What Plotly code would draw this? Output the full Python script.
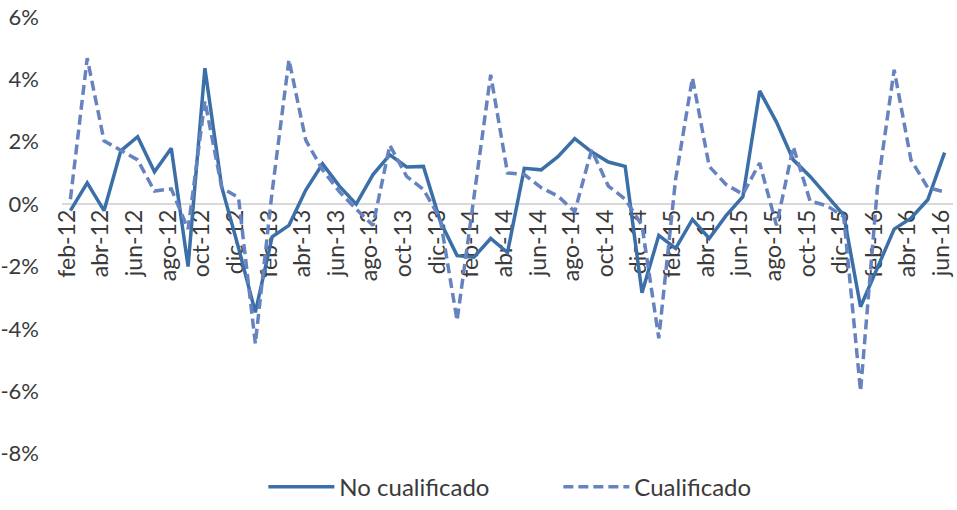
import plotly.graph_objects as go

months = ["ene", "feb", "mar", "abr", "may", "jun", "jul", "ago", "sep", "oct", "nov", "dic"]
categories = [f"{m}-{y}" for y in range(12, 17) for m in months][1:54]

no_cualificado = [
    -0.21, 0.68, -0.21, 1.71, 2.16, 1.04, 1.79, -2.00, 4.36, 0.55, -1.40,
    -3.47, -1.05, -0.68, 0.45, 1.29, 0.58, 0.00, 0.95, 1.58, 1.19, 1.21, -0.55,
    -1.65, -1.70, -1.10, -1.55, 1.15, 1.10, 1.52, 2.10, 1.68, 1.35, 1.21, -2.84,
    -1.00, -1.42, -0.49, -1.10, -0.37, 0.24, 3.63, 2.63, 1.42, 0.89, 0.26, -0.35,
    -3.29, -2.05, -0.80, -0.45, 0.14, 1.65,
]
cualificado = [
    0.16, 4.68, 2.03, 1.74, 1.42, 0.42, 0.49, -0.80, 3.31, 0.53, 0.21,
    -4.47, 0.40, 4.63, 2.05, 1.10, 0.40, -0.16, -0.68, 1.89, 0.89, 0.47, -0.47,
    -3.73, 0.30, 4.15, 1.00, 0.95, 0.53, 0.26, -0.24, 1.74, 0.58, 0.16, -0.68,
    -4.30, 0.80, 4.05, 1.21, 0.63, 0.32, 1.32, -0.68, 1.84, 0.10, -0.05, -0.40,
    -5.99, 0.50, 4.31, 1.42, 0.53, 0.39,
]
tick_labels = categories[::2]
y_ticks = [-8, -6, -4, -2, 0, 2, 4, 6]
y_tick_text = ["-8%", "-6%", "-4%", "-2%", "0%", "2%", "4%", "6%"]

FONT = "Lato"
TXT = "#3a3a3a"

fig = go.Figure()
fig.add_trace(go.Scatter(
    x=categories, y=no_cualificado, name="No cualificado", mode="lines",
    line=dict(color="#3A6FA8", width=3.5),
))
fig.add_trace(go.Scatter(
    x=categories, y=cualificado, name="Cualificado", mode="lines",
    line=dict(color="#6683C0", width=3.5, dash="10px,5px"),
))

W, H = 957, 510
ML, MR, MT = 62, 4, 17
PLOT_BOTTOM = 460          # pixel row of the plot-area bottom
LEGEND_Y = 494             # pixel row of the legend centre
paper_h = H - MT
dom0 = (H - PLOT_BOTTOM) / paper_h
ymin, ymax = -8, 6
zero_pos = dom0 + (1 - dom0) * (0 - ymin) / (ymax - ymin)

fig.update_layout(
    width=W, height=H,
    margin=dict(l=ML, r=MR, t=MT, b=0),
    paper_bgcolor="white", plot_bgcolor="white",
    font=dict(family=FONT, color=TXT, size=21),
    showlegend=True,
    legend=dict(
        orientation="h", x=0.226, xanchor="left",
        y=(H - LEGEND_Y) / paper_h, yanchor="middle",
        font=dict(size=24, color=TXT), itemwidth=66, entrywidth=214,
        bgcolor="rgba(0,0,0,0)",
    ),
    xaxis=dict(
        type="category", range=[-0.5, len(categories) - 0.5],
        tickmode="array", tickvals=tick_labels, ticktext=tick_labels,
        tickangle=-90, tickfont=dict(size=23, color=TXT),
        showgrid=False, zeroline=False, showline=False, ticks="",
        anchor="free", position=zero_pos,
        layer="below traces", ticklabelshift=-3, automargin=False,
    ),
    yaxis=dict(
        domain=[dom0, 1],
        range=[ymin, ymax], tickmode="array", tickvals=y_ticks, ticktext=y_tick_text,
        tickfont=dict(size=22, color=TXT), showgrid=False,
        zeroline=True, zerolinecolor="#D9D9D9", zerolinewidth=1.5,
        showline=False, ticks="", ticklabelstandoff=22, automargin=False,
        ticklabeloverflow="allow",
    ),
)

# remove the browser's default 8px page margin so the figure sits at the window origin
fig.write_html(
    "out.html",
    config={"displayModeBar": False},
    post_script="document.body.style.margin='0';",
)
